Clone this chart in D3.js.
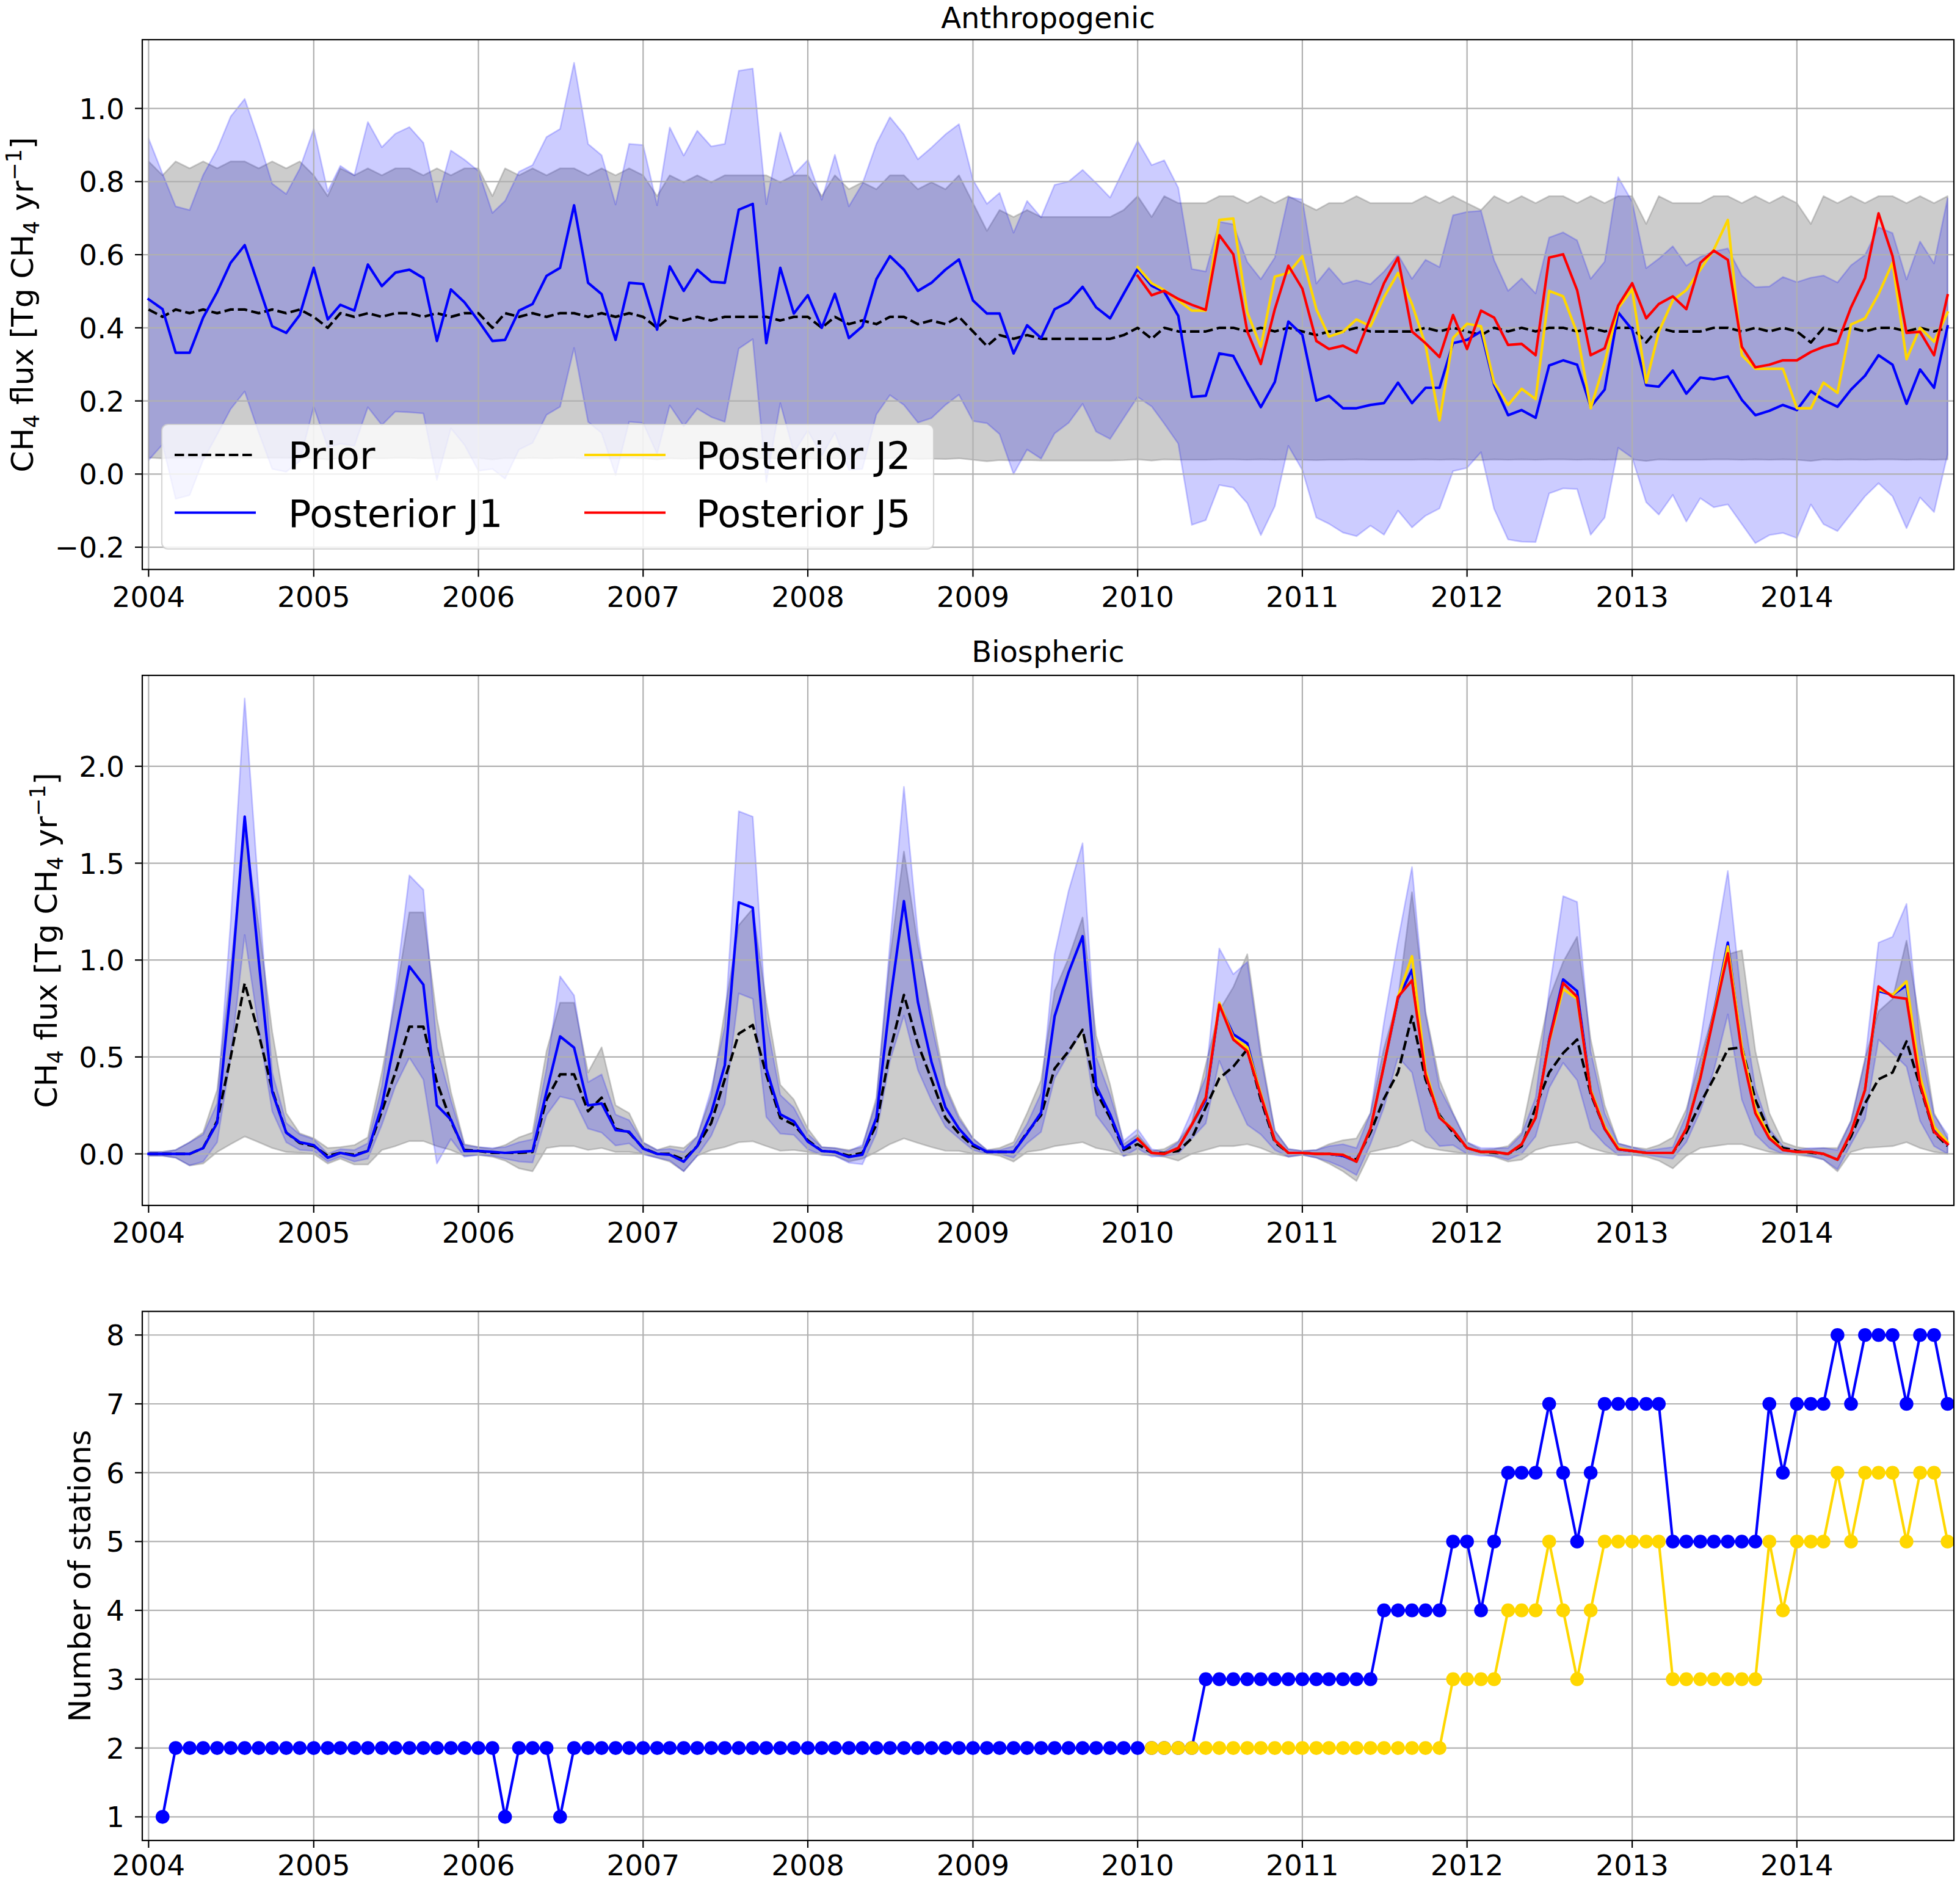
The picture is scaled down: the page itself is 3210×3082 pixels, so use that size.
<!DOCTYPE html>
<html><head><meta charset="utf-8">
<script src="https://cdn.jsdelivr.net/npm/d3@7"></script>
<style>body{margin:0;background:#fff} text{font-family:"DejaVu Sans",sans-serif;fill:#000}</style>
</head><body>
<svg id="chart" width="3210" height="3082" xmlns="http://www.w3.org/2000/svg"></svg>
<script>
// ---------------- DATA ----------------
const yearTicks = [2004,2005,2006,2007,2008,2009,2010,2011,2012,2013,2014];
const anthTicks = [-0.2,0.0,0.2,0.4,0.6,0.8,1.0];
const bioTicks = [0.0,0.5,1.0,1.5,2.0];
const stationTicks = [1,2,3,4,5,6,7,8];
const fluxStart = [2004,1];      // monthly series start (year, month)
const posteriorJStart = [2010,1]; // J2/J5 start
const stationJ1Start = [2004,2];
const stationJ2Start = [2010,2];

// Anthropogenic
const anthPrior = [
0.45,0.43,0.45,0.44,0.45,0.44,0.45,0.45,0.44,0.45,0.44,0.45,
0.43,0.40,0.44,0.43,0.44,0.43,0.44,0.44,0.43,0.44,0.43,0.44,
0.44,0.40,0.44,0.43,0.44,0.43,0.44,0.44,0.43,0.44,0.43,0.44,
0.43,0.40,0.43,0.42,0.43,0.42,0.43,0.43,0.43,0.43,0.42,0.43,
0.43,0.40,0.43,0.41,0.42,0.41,0.43,0.43,0.41,0.42,0.41,0.43,
0.39,0.35,0.38,0.37,0.38,0.37,0.37,0.37,0.37,0.37,0.37,0.38,
0.40,0.37,0.40,0.39,0.39,0.39,0.40,0.40,0.39,0.40,0.39,0.40,
0.39,0.38,0.39,0.39,0.40,0.39,0.39,0.39,0.39,0.40,0.39,0.40,
0.39,0.38,0.40,0.39,0.40,0.39,0.40,0.40,0.39,0.40,0.39,0.40,
0.40,0.36,0.40,0.39,0.39,0.39,0.40,0.40,0.39,0.40,0.39,0.40,
0.39,0.36,0.40,0.39,0.40,0.39,0.40,0.40,0.39,0.40,0.39,0.40];
const anthPriorUnc = [
0.405,0.387,0.405,0.396,0.405,0.396,0.405,0.405,0.396,0.405,0.396,0.405,
0.387,0.360,0.396,0.387,0.396,0.387,0.396,0.396,0.387,0.396,0.387,0.396,
0.396,0.360,0.396,0.387,0.396,0.387,0.396,0.396,0.387,0.396,0.387,0.396,
0.387,0.360,0.387,0.378,0.387,0.378,0.387,0.387,0.387,0.387,0.378,0.387,
0.387,0.360,0.387,0.369,0.378,0.369,0.387,0.387,0.369,0.378,0.369,0.387,
0.351,0.315,0.342,0.333,0.342,0.333,0.333,0.333,0.333,0.333,0.333,0.342,
0.360,0.333,0.360,0.351,0.351,0.351,0.360,0.360,0.351,0.360,0.351,0.360,
0.351,0.342,0.351,0.351,0.360,0.351,0.351,0.351,0.351,0.360,0.351,0.360,
0.351,0.342,0.360,0.351,0.360,0.351,0.360,0.360,0.351,0.360,0.351,0.360,
0.360,0.324,0.360,0.351,0.351,0.351,0.360,0.360,0.351,0.360,0.351,0.360,
0.351,0.324,0.360,0.351,0.360,0.351,0.360,0.360,0.351,0.360,0.351,0.360];
const anthJ1 = [
0.478,0.451,0.332,0.332,0.428,0.498,0.578,0.626,0.514,0.404,0.386,0.435,
0.564,0.423,0.463,0.447,0.573,0.514,0.551,0.559,0.536,0.364,0.505,0.470,
0.419,0.364,0.367,0.447,0.465,0.542,0.564,0.735,0.523,0.492,0.367,0.523,
0.520,0.395,0.568,0.501,0.559,0.526,0.523,0.723,0.739,0.358,0.564,0.439,
0.489,0.400,0.493,0.372,0.404,0.533,0.596,0.559,0.501,0.523,0.559,0.587,
0.475,0.439,0.439,0.330,0.407,0.372,0.451,0.470,0.512,0.456,0.426,0.493,
0.561,0.515,0.498,0.433,0.211,0.214,0.330,0.323,0.250,0.183,0.252,0.417,
0.381,0.201,0.214,0.180,0.180,0.189,0.194,0.250,0.194,0.236,0.236,0.358,
0.367,0.390,0.245,0.161,0.175,0.154,0.297,0.311,0.299,0.184,0.231,0.442,
0.395,0.243,0.239,0.283,0.220,0.264,0.259,0.267,0.203,0.161,0.173,0.189,
0.175,0.227,0.203,0.184,0.231,0.269,0.325,0.299,0.192,0.286,0.236,0.404];
const anthJ1Unc = [
0.44,0.37,0.40,0.39,0.39,0.39,0.40,0.40,0.40,0.39,0.38,0.40,
0.38,0.35,0.38,0.37,0.39,0.38,0.38,0.39,0.37,0.38,0.38,0.39,
0.41,0.35,0.38,0.38,0.38,0.38,0.38,0.39,0.38,0.38,0.37,0.38,
0.38,0.34,0.38,0.37,0.38,0.37,0.38,0.38,0.37,0.38,0.37,0.38,
0.37,0.35,0.38,0.36,0.39,0.37,0.38,0.37,0.36,0.37,0.37,0.37,
0.33,0.30,0.33,0.33,0.34,0.33,0.34,0.33,0.32,0.34,0.33,0.34,
0.35,0.33,0.36,0.35,0.35,0.34,0.36,0.36,0.33,0.35,0.34,0.34,
0.37,0.32,0.35,0.34,0.35,0.33,0.36,0.35,0.34,0.35,0.33,0.35,
0.35,0.33,0.34,0.34,0.36,0.34,0.35,0.35,0.34,0.35,0.35,0.37,
0.35,0.32,0.35,0.34,0.35,0.33,0.35,0.35,0.34,0.35,0.34,0.35,
0.35,0.31,0.34,0.34,0.34,0.33,0.35,0.36,0.34,0.35,0.34,0.35];
const anthJ2 = [
0.566,0.522,0.503,0.475,0.447,0.447,0.695,0.699,0.442,0.348,0.540,0.550,
0.596,0.451,0.376,0.389,0.423,0.404,0.484,0.550,0.465,0.353,0.147,0.372,
0.411,0.404,0.250,0.189,0.233,0.205,0.501,0.486,0.386,0.180,0.306,0.454,
0.505,0.250,0.389,0.475,0.503,0.559,0.614,0.695,0.325,0.288,0.288,0.288,
0.180,0.180,0.250,0.222,0.409,0.426,0.492,0.578,0.314,0.400,0.362,0.442];
const anthJ5 = [
0.542,0.489,0.501,0.479,0.463,0.449,0.653,0.601,0.390,0.301,0.451,0.570,
0.507,0.364,0.342,0.351,0.332,0.428,0.522,0.592,0.390,0.358,0.320,0.435,
0.342,0.447,0.428,0.353,0.356,0.325,0.592,0.601,0.503,0.325,0.344,0.461,
0.522,0.426,0.465,0.486,0.451,0.578,0.611,0.586,0.348,0.292,0.299,0.311,
0.311,0.334,0.348,0.358,0.456,0.536,0.713,0.596,0.386,0.389,0.325,0.489];

// Biospheric
const bioPrior = [
0.0,0.0,0.0,0.0,0.03,0.17,0.50,0.88,0.62,0.33,0.11,0.056,
0.04,-0.01,0.005,-0.005,0.015,0.22,0.42,0.656,0.656,0.37,0.17,0.02,
0.015,0.005,0.005,0.005,0.01,0.28,0.41,0.41,0.22,0.29,0.13,0.11,
0.03,0.0,0.0,-0.03,0.04,0.16,0.385,0.62,0.665,0.41,0.186,0.15,
0.07,0.015,0.01,-0.01,0.005,0.15,0.53,0.82,0.566,0.385,0.186,0.105,
0.04,0.01,0.01,0.01,0.11,0.20,0.44,0.53,0.64,0.32,0.186,0.02,
0.05,0.005,0.005,0.015,0.08,0.24,0.39,0.45,0.54,0.28,0.06,0.005,
0.005,0.0,0.0,-0.01,-0.03,0.11,0.285,0.42,0.71,0.385,0.20,0.11,
0.03,0.01,0.005,0.0,0.04,0.24,0.42,0.52,0.59,0.31,0.13,0.024,
0.015,0.005,0.005,0.005,0.11,0.26,0.39,0.54,0.55,0.28,0.11,0.03,
0.015,0.005,0.0,-0.03,0.09,0.26,0.385,0.42,0.58,0.35,0.11,0.04];
const bioPriorUnc = [
0.01,0.01,0.02,0.06,0.08,0.16,0.45,0.79,0.56,0.30,0.10,0.05,
0.04,0.04,0.03,0.05,0.07,0.20,0.38,0.59,0.59,0.33,0.15,0.03,
0.02,0.02,0.04,0.08,0.10,0.25,0.37,0.37,0.20,0.26,0.12,0.10,
0.03,0.02,0.04,0.06,0.05,0.14,0.35,0.56,0.60,0.37,0.17,0.13,
0.06,0.02,0.02,0.03,0.03,0.14,0.48,0.74,0.51,0.35,0.17,0.09,
0.04,0.01,0.02,0.05,0.10,0.18,0.40,0.48,0.58,0.29,0.17,0.03,
0.05,0.01,0.02,0.05,0.08,0.22,0.35,0.41,0.49,0.25,0.06,0.02,
0.01,0.02,0.05,0.08,0.11,0.10,0.26,0.38,0.64,0.35,0.18,0.10,
0.03,0.01,0.02,0.04,0.07,0.22,0.38,0.47,0.53,0.28,0.12,0.03,
0.02,0.02,0.04,0.08,0.12,0.23,0.35,0.49,0.50,0.25,0.10,0.03,
0.02,0.02,0.03,0.06,0.08,0.23,0.35,0.38,0.52,0.32,0.10,0.04];
const bioJ1 = [
0.0,0.0,0.0,0.0,0.03,0.16,0.85,1.74,1.00,0.32,0.11,0.06,
0.045,-0.02,0.005,-0.01,0.015,0.25,0.60,0.967,0.873,0.25,0.177,0.015,
0.015,0.01,0.005,0.01,0.015,0.32,0.606,0.548,0.25,0.26,0.123,0.114,
0.027,0.0,-0.004,-0.04,0.04,0.213,0.457,1.298,1.27,0.44,0.204,0.168,
0.063,0.015,0.01,-0.016,-0.004,0.186,0.78,1.304,0.783,0.475,0.24,0.13,
0.05,0.01,0.01,0.01,0.105,0.213,0.71,0.937,1.123,0.35,0.204,0.027,
0.078,0.005,0.0,0.03,0.15,0.277,0.77,0.617,0.57,0.30,0.07,0.005,
0.005,0.0,0.0,-0.01,-0.04,0.13,0.46,0.80,0.95,0.42,0.19,0.125,
0.03,0.01,0.01,0.0,0.05,0.19,0.59,0.90,0.84,0.33,0.13,0.024,
0.015,0.005,0.005,0.005,0.13,0.40,0.73,1.09,0.53,0.22,0.08,0.02,
0.01,0.01,0.0,-0.03,0.11,0.33,0.84,0.82,0.87,0.37,0.12,0.05];
const bioJ1Unc = [
0.01,0.01,0.02,0.06,0.07,0.10,0.35,0.61,0.35,0.10,0.05,0.04,
0.03,0.02,0.02,0.03,0.04,0.10,0.25,0.47,0.49,0.30,0.10,0.03,
0.02,0.02,0.03,0.05,0.06,0.12,0.31,0.27,0.12,0.15,0.08,0.06,
0.03,0.02,0.03,0.05,0.05,0.12,0.20,0.47,0.47,0.25,0.10,0.07,
0.04,0.02,0.02,0.03,0.05,0.08,0.30,0.59,0.35,0.20,0.10,0.05,
0.03,0.01,0.01,0.03,0.05,0.10,0.32,0.42,0.48,0.15,0.10,0.04,
0.05,0.02,0.01,0.03,0.07,0.12,0.29,0.31,0.42,0.20,0.05,0.02,
0.01,0.02,0.04,0.06,0.07,0.08,0.22,0.30,0.53,0.30,0.15,0.08,
0.03,0.02,0.02,0.03,0.05,0.10,0.25,0.43,0.46,0.20,0.08,0.03,
0.02,0.01,0.02,0.03,0.07,0.18,0.30,0.37,0.25,0.12,0.05,0.02,
0.01,0.02,0.03,0.05,0.06,0.15,0.25,0.30,0.42,0.20,0.08,0.05];
const bioJ2 = [
0.08,0.005,0.0,0.03,0.15,0.29,0.78,0.60,0.55,0.31,0.07,0.005,
0.005,0.0,0.0,-0.005,-0.04,0.13,0.46,0.81,1.02,0.43,0.19,0.125,
0.03,0.01,0.01,0.0,0.05,0.19,0.58,0.85,0.80,0.33,0.14,0.03,
0.015,0.005,0.005,0.005,0.13,0.40,0.72,1.07,0.55,0.23,0.09,0.02,
0.01,0.01,0.0,-0.03,0.11,0.33,0.85,0.82,0.89,0.40,0.14,0.06];
const bioJ5 = [
0.078,0.005,0.0,0.03,0.15,0.29,0.77,0.59,0.53,0.30,0.07,0.005,
0.005,0.0,0.0,-0.005,-0.04,0.13,0.457,0.81,0.895,0.41,0.186,0.123,
0.03,0.01,0.01,0.0,0.05,0.186,0.584,0.882,0.81,0.32,0.13,0.024,
0.015,0.005,0.005,0.005,0.13,0.39,0.71,1.035,0.52,0.21,0.08,0.02,
0.01,0.01,0.0,-0.03,0.11,0.33,0.864,0.81,0.80,0.36,0.114,0.05];

// Number of stations
const stationsJ1 = [
1,2,2,2,2,2,2,2,2,2,2,
2,2,2,2,2,2,2,2,2,2,2,2,
2,2,1,2,2,2,1,2,2,2,2,2,
2,2,2,2,2,2,2,2,2,2,2,2,
2,2,2,2,2,2,2,2,2,2,2,2,
2,2,2,2,2,2,2,2,2,2,2,2,
2,2,2,2,2,3,3,3,3,3,3,3,
3,3,3,3,3,3,4,4,4,4,4,5,
5,4,5,6,6,6,7,6,5,6,7,7,
7,7,7,5,5,5,5,5,5,5,7,6,
7,7,7,8,7,8,8,8,7,8,8,7];
const stationsJ2 = [
2,2,2,2,2,2,2,2,2,2,2,
2,2,2,2,2,2,2,2,2,2,2,3,
3,3,3,4,4,4,5,4,3,4,5,5,
5,5,5,3,3,3,3,3,3,3,5,4,
5,5,5,6,5,6,6,6,5,6,6,5];

const labels = {
  anthTitle: "Anthropogenic", bioTitle: "Biospheric",
  stations: "Number of stations",
  legend: ["Prior","Posterior J1","Posterior J2","Posterior J5"]
};

// ---------------- DRAWING ----------------
const W = 3210, H = 3082;
const L = 233, R = 3200;
const svg = d3.select('#chart');
svg.append('rect').attr('width',W).attr('height',H).attr('fill','#fff');
const defs = svg.append('defs');

const ym = a => new Date(Date.UTC(a[0], a[1]-1, 1));
const monthsFrom = (start, n) => d3.utcMonth.range(ym(start), d3.utcMonth.offset(ym(start), n));
const fluxMonths = monthsFrom(fluxStart, anthPrior.length);
const jMonths = monthsFrom(posteriorJStart, anthJ2.length);
const st1Months = monthsFrom(stationJ1Start, stationsJ1.length);
const st2Months = monthsFrom(stationJ2Start, stationsJ2.length);
const yearDates = yearTicks.map(y => new Date(Date.UTC(y,0,1)));

const x = d3.scaleUtc()
  .domain([new Date(Date.UTC(2003,11,18)), new Date(Date.UTC(2014,11,15))])
  .range([L, R]);

const LW = 4.2, GRID = '#b0b0b0';
const C = {j1:'#0000ff', j2:'#ffd700', j5:'#ff0000', prior:'#000000'};

function panel(top, bottom, yDomain, yTicks, fmt, xLabelOffset) {
  const y = d3.scaleLinear().domain(yDomain).range([bottom, top]);
  const id = 'clip' + Math.round(top);
  defs.append('clipPath').attr('id', id).append('rect')
    .attr('x', L).attr('y', top).attr('width', R-L).attr('height', bottom-top);
  const g = svg.append('g');
  const fills = g.append('g').attr('clip-path', `url(#${id})`);
  const grid = g.append('g');
  const lines = g.append('g').attr('clip-path', `url(#${id})`);
  const axes = g.append('g');
  grid.selectAll('line.v').data(yearDates).join('line').attr('class','v')
    .attr('x1', d=>x(d)).attr('x2', d=>x(d)).attr('y1', top).attr('y2', bottom)
    .attr('stroke', GRID).attr('stroke-width', 2.2);
  grid.selectAll('line.h').data(yTicks).join('line').attr('class','h')
    .attr('x1', L).attr('x2', R).attr('y1', d=>y(d)).attr('y2', d=>y(d))
    .attr('stroke', GRID).attr('stroke-width', 2.2);
  axes.selectAll('line.xt').data(yearDates).join('line').attr('class','xt')
    .attr('x1', d=>x(d)).attr('x2', d=>x(d)).attr('y1', bottom).attr('y2', bottom+12)
    .attr('stroke', '#000').attr('stroke-width', 2.2);
  axes.selectAll('text.xl').data(yearDates).join('text').attr('class','xl')
    .attr('x', d=>x(d)).attr('y', bottom+xLabelOffset).attr('text-anchor','middle')
    .attr('font-size', 47).text(d3.utcFormat('%Y'));
  axes.selectAll('line.yt').data(yTicks).join('line').attr('class','yt')
    .attr('x1', L-12).attr('x2', L).attr('y1', d=>y(d)).attr('y2', d=>y(d))
    .attr('stroke', '#000').attr('stroke-width', 2.2);
  axes.selectAll('text.yl').data(yTicks).join('text').attr('class','yl')
    .attr('x', L-29).attr('y', d=>y(d)+17).attr('text-anchor','end')
    .attr('font-size', 47).text(fmt);
  axes.append('rect').attr('x', L).attr('y', top).attr('width', R-L).attr('height', bottom-top)
    .attr('fill','none').attr('stroke','#000').attr('stroke-width', 2.2);
  return {y, fills, lines, axes, top, bottom};
}

function band(p, dates, vals, unc, color, alpha) {
  const area = d3.area()
    .x((d,i)=>x(dates[i]))
    .y0((d,i)=>p.y(vals[i]-unc[i]))
    .y1((d,i)=>p.y(vals[i]+unc[i]));
  p.fills.append('path').attr('d', area(vals))
    .attr('fill', color).attr('fill-opacity', alpha)
    .attr('stroke', color).attr('stroke-opacity', alpha).attr('stroke-width', 2.6)
    .attr('stroke-linejoin','round');
}
function line(p, dates, vals, color, dashed) {
  const ln = d3.line().x((d,i)=>x(dates[i])).y(d=>p.y(d));
  const path = p.lines.append('path').attr('d', ln(vals))
    .attr('fill','none').attr('stroke', color).attr('stroke-width', LW)
    .attr('stroke-linejoin','round');
  if (dashed) path.attr('stroke-dasharray', '15.5,6.7');
  else path.attr('stroke-linecap','square');
}
function ylabelFlux(xb, cy) {
  const t = svg.append('text').attr('transform', `translate(${xb},${cy}) rotate(-90)`)
    .attr('text-anchor','middle').attr('font-size', 50);
  t.append('tspan').text('CH');
  t.append('tspan').attr('font-size', 35).attr('dy', 10).text('4');
  t.append('tspan').attr('dy', -10).text(' flux [Tg CH');
  t.append('tspan').attr('font-size', 35).attr('dy', 10).text('4');
  t.append('tspan').attr('dy', -10).text(' yr');
  t.append('tspan').attr('font-size', 35).attr('dy', -19).text('\u22121');
  t.append('tspan').attr('dy', 19).text(']');
}
const fmtMinus = d => d3.format('.1f')(d).replace('-', '\u2212');

// ---- Panel 1: Anthropogenic
const p1 = panel(65, 932.6, [-0.261, 1.188], anthTicks, fmtMinus, 61);
band(p1, fluxMonths, anthPrior, anthPriorUnc, '#808080', 0.4);
band(p1, fluxMonths, anthJ1, anthJ1Unc, C.j1, 0.2);
line(p1, fluxMonths, anthPrior, C.prior, true);
line(p1, fluxMonths, anthJ1, C.j1, false);
line(p1, jMonths, anthJ2, C.j2, false);
line(p1, jMonths, anthJ5, C.j5, false);
svg.append('text').attr('x', (L+R)/2).attr('y', 46).attr('text-anchor','middle')
  .attr('font-size', 48).text(labels.anthTitle);
ylabelFlux(54, 499);

// legend
const lg = svg.append('g');
lg.append('rect').attr('x', 265).attr('y', 695).attr('width', 1264).attr('height', 204)
  .attr('rx', 10).attr('fill', '#fff').attr('fill-opacity', 0.8)
  .attr('stroke', '#cccccc').attr('stroke-opacity', 0.8).attr('stroke-width', 2.2);
const legendItems = [
  {label: labels.legend[0], color: C.prior, dash: true, hx: 286, tx: 472, cy: 745},
  {label: labels.legend[1], color: C.j1, dash: false, hx: 286, tx: 472, cy: 839.5},
  {label: labels.legend[2], color: C.j2, dash: false, hx: 957, tx: 1140, cy: 745},
  {label: labels.legend[3], color: C.j5, dash: false, hx: 957, tx: 1140, cy: 839.5}
];
legendItems.forEach(it => {
  const l = lg.append('line').attr('x1', it.hx).attr('x2', it.hx+133)
    .attr('y1', it.cy).attr('y2', it.cy).attr('stroke', it.color).attr('stroke-width', LW);
  if (it.dash) l.attr('stroke-dasharray', '15.5,6.7');
  lg.append('text').attr('x', it.tx).attr('y', it.cy+23).attr('font-size', 62).text(it.label);
});

// ---- Panel 2: Biospheric
const p2 = panel(1106, 1974, [-0.266, 2.469], bioTicks, d3.format('.1f'), 61);
band(p2, fluxMonths, bioPrior, bioPriorUnc, '#808080', 0.4);
band(p2, fluxMonths, bioJ1, bioJ1Unc, C.j1, 0.2);
line(p2, fluxMonths, bioPrior, C.prior, true);
line(p2, fluxMonths, bioJ1, C.j1, false);
line(p2, jMonths, bioJ2, C.j2, false);
line(p2, jMonths, bioJ5, C.j5, false);
svg.append('text').attr('x', (L+R)/2).attr('y', 1084).attr('text-anchor','middle')
  .attr('font-size', 48).text(labels.bioTitle);
ylabelFlux(93, 1540);

// ---- Panel 3: Number of stations
const p3 = panel(2147.6, 3014, [0.657, 8.343], stationTicks, d3.format('d'), 57);
function stationSeries(dates, vals, color) {
  line(p3, dates, vals, color, false);
  p3.lines.append('g').selectAll('circle').data(vals).join('circle')
    .attr('cx', (d,i)=>x(dates[i])).attr('cy', d=>p3.y(d)).attr('r', 11.3)
    .attr('fill', color);
}
stationSeries(st1Months, stationsJ1, C.j1);
stationSeries(st2Months, stationsJ2, C.j2);
svg.append('text').attr('transform', `translate(148,${(2147.6+3014)/2}) rotate(-90)`)
  .attr('text-anchor','middle').attr('font-size', 50).text(labels.stations);
</script>
</body></html>
